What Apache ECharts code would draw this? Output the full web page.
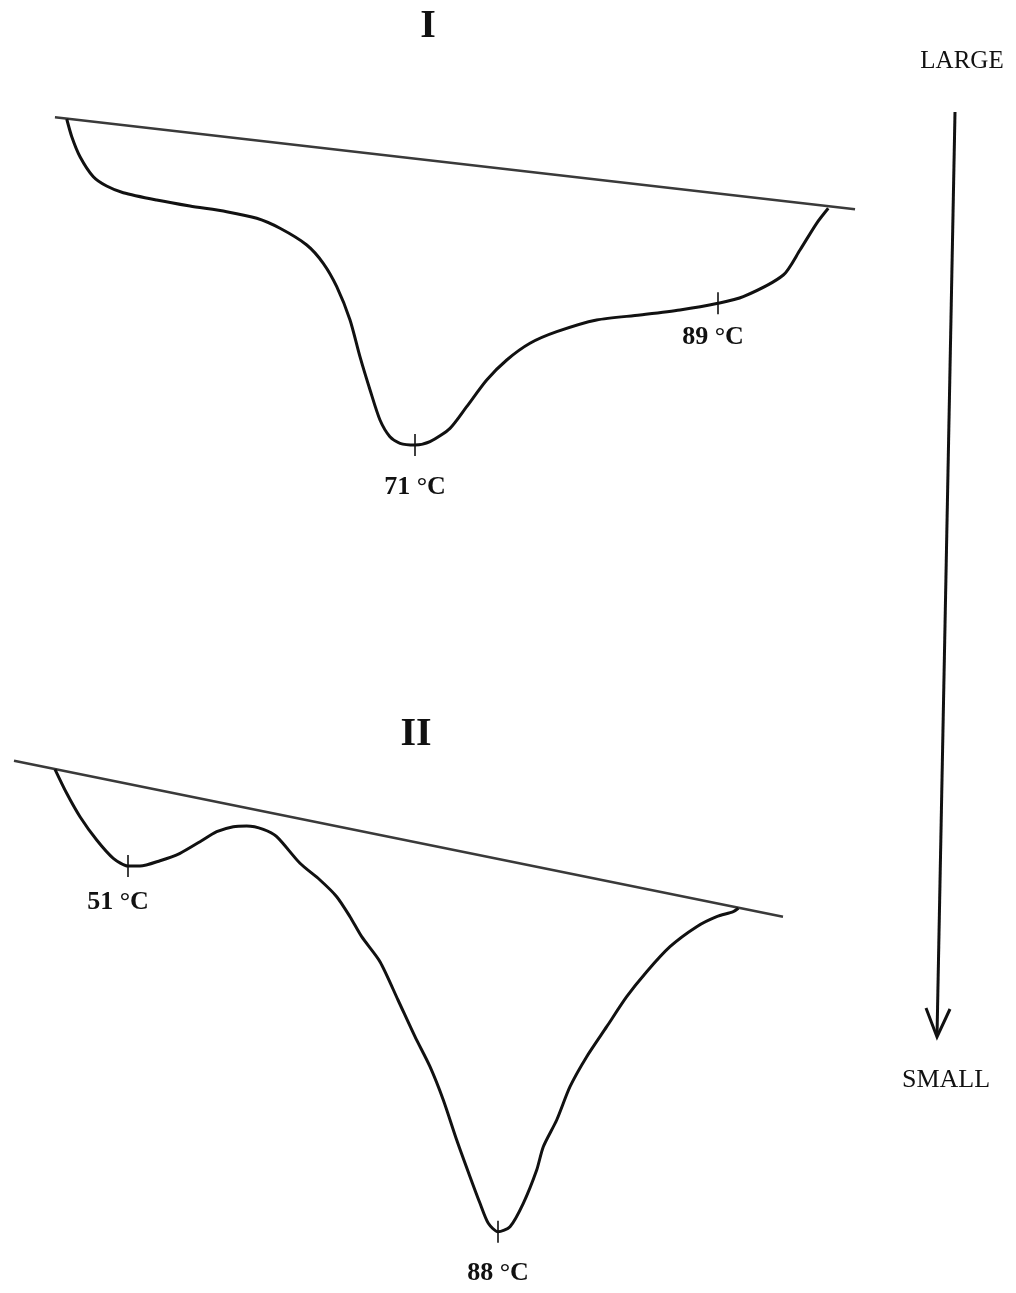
<!DOCTYPE html>
<html>
<head>
<meta charset="utf-8">
<script src="https://cdn.jsdelivr.net/npm/echarts@6/dist/echarts.min.js"></script>
<style>
  html, body { margin: 0; padding: 0; background: #fff; }
  #chart { width: 1016px; height: 1293px; }
</style>
</head>
<body>
<div id="chart"></div>
<script>
// Thermogram I: temperature (°C) and heat flow (arb. units, endotherm down)
const tempI = [50.31, 50.61, 51.10, 51.89, 52.68, 53.67, 55.65, 57.63, 59.81, 61.60, 62.98, 64.57,
  65.55, 66.35, 67.14, 67.73, 68.33, 68.92, 69.51, 70.11, 71.00, 71.89, 73.08, 74.07, 75.26,
  76.45, 77.83, 79.42, 81.79, 84.37, 86.74, 89.00, 90.50, 92.88, 93.87, 94.86, 95.55];
const flowI = [-1.9, -3.67, -5.67, -7.67, -8.6, -9.27, -10.0, -10.6, -11.17, -11.83, -12.83, -14.5,
  -16.33, -18.67, -22.0, -25.67, -29.0, -32.0, -33.67, -34.33, -34.5, -34.17, -32.83, -30.67, -28.0,
  -26.0, -24.33, -23.17, -22.0, -21.5, -21.0, -20.33, -19.67, -17.5, -15.0, -12.33, -10.83];
const baseTempI = [49.61, 97.14];
const baseFlowI = [-1.73, -10.93];
const peakTempI = [71, 89];
const peakFlowI = [-34.5, -20.33];

// Thermogram II
const tempII = [43.7, 44.87, 46.2, 47.87, 49.53, 51.0, 52.2, 54.2, 56.2, 58.2, 59.87, 61.53, 62.87,
  64.53, 65.87, 68.2, 70.2, 71.87, 73.2, 74.37, 76.2, 78.0, 79.7, 81.2, 82.53, 83.87, 85.2, 86.2,
  87.03, 88.0, 89.2, 90.53, 91.87, 92.53, 93.87, 95.2, 96.87, 98.87, 100.87, 102.87, 105.2, 107.87,
  109.87, 111.53, 112.03];
const flowII = [-2.93, -5.33, -7.67, -10.0, -11.83, -12.6, -12.6, -12.07, -11.33, -10.17, -9.17, -8.67,
  -8.6, -8.93, -9.67, -12.33, -14.0, -15.67, -17.67, -19.67, -22.17, -26.0, -29.67, -32.67, -36.0,
  -40.0, -43.67, -46.33, -48.33, -49.17, -48.67, -46.33, -43.0, -40.67, -38.0, -34.67, -31.67, -28.67,
  -25.67, -23.17, -20.67, -18.67, -17.67, -17.17, -16.83];
const baseTempII = [39.6, 116.5];
const baseFlowII = [-2.07, -17.67];
const peakTempII = [51, 88];
const peakFlowII = [-12.6, -49.17];

const panelTitles = ['I', 'II'];
const scaleLabels = ['LARGE', 'SMALL'];

const zip = (xs, ys) => xs.map((x, i) => [x, ys[i]]);
const serif = '"Liberation Serif", "DejaVu Serif", serif';
const ink = '#111';

function curve(idx, xs, ys) {
  return {
    type: 'line', xAxisIndex: idx, yAxisIndex: idx, data: zip(xs, ys),
    smooth: 0.25, showSymbol: false, silent: true,
    lineStyle: { color: ink, width: 3 }
  };
}
function baseline(idx, xs, ys) {
  return {
    type: 'line', xAxisIndex: idx, yAxisIndex: idx, data: zip(xs, ys),
    showSymbol: false, silent: true,
    lineStyle: { color: '#3a3a3a', width: 2.6 }
  };
}
function peaks(idx, xs, ys, offsets) {
  return {
    type: 'scatter', xAxisIndex: idx, yAxisIndex: idx,
    symbol: 'rect', symbolSize: [1.6, 22], silent: true,
    itemStyle: { color: ink, opacity: 1 },
    data: zip(xs, ys).map((p, i) => ({
      value: p,
      label: { offset: offsets[i] }
    })),
    label: {
      show: true, position: 'bottom', distance: 6,
      formatter: p => p.value[0] + ' °C',
      fontFamily: serif, fontWeight: 'bold', fontSize: 26, color: ink, opacity: 1
    }
  };
}

const chart = echarts.init(document.getElementById('chart'));
chart.setOption({
  animation: false,
  backgroundColor: '#fff',
  grid: [
    { left: 44.67, width: 824.83, top: 100, height: 400 },
    { left: 8, width: 790, top: 740, height: 500 }
  ],
  xAxis: [
    { type: 'value', gridIndex: 0, min: 49, max: 98, show: false },
    { type: 'value', gridIndex: 1, min: 39, max: 118, show: false }
  ],
  yAxis: [
    { type: 'value', gridIndex: 0, min: -40, max: 0, show: false },
    { type: 'value', gridIndex: 1, min: -50, max: 0, show: false }
  ],
  series: [
    baseline(0, baseTempI, baseFlowI),
    curve(0, tempI, flowI),
    peaks(0, peakTempI, peakFlowI, [[0, 12], [-5, 4]]),
    baseline(1, baseTempII, baseFlowII),
    curve(1, tempII, flowII),
    peaks(1, peakTempII, peakFlowII, [[-10, 6], [0, 12]])
  ],
  graphic: [
    { type: 'text', x: 428, y: 27, style: { text: panelTitles[0], font: 'bold 40px ' + serif, fill: ink, align: 'center', verticalAlign: 'middle' } },
    { type: 'text', x: 416, y: 735, style: { text: panelTitles[1], font: 'bold 40px ' + serif, fill: ink, align: 'center', verticalAlign: 'middle' } },
    { type: 'text', x: 962, y: 61, style: { text: scaleLabels[0], font: '25px ' + serif, fill: ink, align: 'center', verticalAlign: 'middle' } },
    { type: 'text', x: 946, y: 1080, style: { text: scaleLabels[1], font: '26px ' + serif, fill: ink, align: 'center', verticalAlign: 'middle' } },
    { type: 'line', shape: { x1: 955, y1: 112, x2: 937, y2: 1036 }, style: { stroke: ink, lineWidth: 3 } },
    { type: 'polyline', shape: { points: [[926, 1008], [937, 1037], [950, 1009]] }, style: { stroke: ink, lineWidth: 3, fill: null } }
  ]
});
</script>
</body>
</html>
